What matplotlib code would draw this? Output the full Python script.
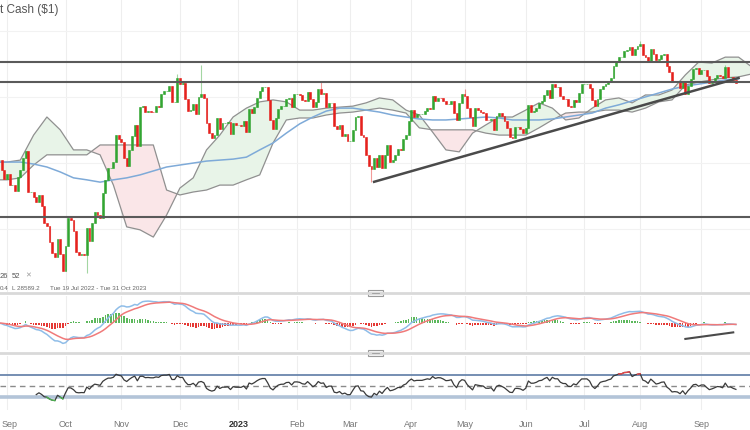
import matplotlib
matplotlib.use("Agg")
import matplotlib.pyplot as plt
from matplotlib.lines import Line2D
from matplotlib.patches import Rectangle
from matplotlib.transforms import ScaledTranslation
import numpy as np
import pandas as pd

START = "2022-08-29"

# daily closes (weekdays), 29 Aug 2022 - 20 Sep 2023
closes = [
    32099, 31791, 31510,
    # Sep 2022
    31656, 31318, 31318, 31146, 31581, 31775, 32152, 32381, 31105, 31135, 30962,
    30822, 31020, 30706, 30184, 30077, 29590, 29261, 29135, 29684, 29226, 28726,
    # Oct
    29490, 30316, 30274, 29927, 29297, 29203, 29240, 29210, 30038, 29635, 30186,
    30524, 30424, 30334, 31083, 31500, 31837, 31839, 32034, 32861, 32733,
    # Nov
    32653, 32148, 31925, 32403, 32827, 33161, 32514, 33716, 33748, 33537, 33593,
    33554, 33547, 33746, 33700, 34098, 34195, 34195, 34347, 33850, 33853, 34590,
    # Dec
    34395, 34430, 33947, 33597, 33598, 33781, 33477, 34006, 34109, 33966, 33203,
    32920, 32757, 32850, 33377, 33028, 33204, 33204, 33241, 32876, 33221, 33147,
    # Jan 2023
    33147, 33136, 33270, 32930, 33631, 33518, 33704, 33974, 34190, 34303, 34303,
    33910, 33297, 33045, 33375, 33630, 33734, 33744, 33950, 33978, 33717, 34086,
    # Feb
    34092, 34054, 33926, 33891, 34156, 33949, 33699, 33869, 34246, 34089, 34128,
    33697, 33827, 33827, 33130, 33045, 33154, 32817, 32889, 32657,
    # Mar
    32662, 33004, 33391, 33432, 32856, 32798, 32255, 31910, 31820, 32155, 31875,
    32247, 31862, 32245, 32561, 32031, 32106, 32238, 32433, 32395, 32718, 32860, 33274,
    # Apr
    33601, 33402, 33482, 33485, 33485, 33587, 33684, 33646, 34030, 33886, 33987,
    33976, 33897, 33786, 33809, 33875, 33531, 33302, 33827, 34098,
    # May
    34051, 33684, 33414, 33128, 33675, 33619, 33562, 33531, 33309, 33301, 33349,
    33012, 33420, 33536, 33427, 33286, 33056, 32800, 32765, 33093, 33093, 33043, 32908,
    # Jun
    33061, 33762, 33563, 33573, 33665, 33833, 33876, 34066, 34212, 33979, 34408,
    34299, 34299, 34053, 33952, 33946, 33727, 33714, 33927, 33852, 34122, 34408,
    # Jul
    34418, 34418, 34288, 33922, 33734, 33944, 34261, 34347, 34395, 34509, 34585,
    34952, 35061, 35225, 35228, 35412, 35438, 35520, 35282, 35459, 35560,
    # Aug
    35630, 35282, 35215, 35066, 35473, 35314, 35124, 35176, 35281, 35308, 34946,
    34766, 34475, 34500, 34464, 34288, 34473, 34099, 34346, 34559, 34852, 34891, 34722,
    # Sep
    34838, 34838, 34641, 34443, 34500, 34577, 34663, 34646, 34576, 34908, 34618,
    34625, 34518, 34441,
]

# the long wicks that stand out
high_wick_dates = ["2022-11-30", "2022-12-13", "2023-02-14", "2023-05-01", "2023-08-01", "2023-09-14"]
high_wick_values = [34700, 34980, 34480, 34260, 35720, 34980]
low_wick_dates = ["2022-09-30", "2022-10-13", "2023-03-13"]
low_wick_values = [28715, 28660, 31430]

# Ichimoku cloud spans and the blue moving average, read weekly
cloud_start = "2022-08-25"
span_a = [32030, 32030, 32090, 32850, 33400, 33010, 32400, 32400, 32250, 31330,
          30060, 29970, 29750, 30420, 31240, 31550, 32400, 32850, 33400, 33670,
          33860, 33920, 33860, 33610, 33610, 33670, 33700, 33730, 33830, 33980,
          33920, 33610, 33460, 32940, 32400, 32340, 32910, 33160, 33400, 33400,
          33610, 33830, 33670, 33310, 33370, 33670, 33920, 33980, 33830, 34070,
          34070, 34220, 34680, 35070, 35040, 35220, 35220, 34920]
span_b = [31490, 31490, 31550, 31940, 32250, 32250, 32250, 32250, 32550, 32550,
          32550, 32550, 32550, 31180, 31030, 31120, 31180, 31330, 31330, 31490,
          31640, 32610, 33310, 33370, 33370, 33460, 33520, 33550, 33610, 33670,
          33610, 33520, 33070, 33010, 33010, 33010, 33010, 32910, 32850, 32850,
          32850, 33070, 33310, 33520, 33550, 33550, 33610, 33610, 33550, 33670,
          33860, 33920, 34370, 34460, 34530, 34590, 34620, 34710]
moving_avg = [32030, 32030, 32030, 31970, 31880, 31730, 31550, 31490, 31420, 31490,
              31550, 31640, 31760, 31880, 31940, 32000, 32060, 32090, 32120, 32180,
              32400, 32610, 32910, 33190, 33400, 33580, 33670, 33670, 33610, 33550,
              33460, 33400, 33340, 33310, 33310, 33340, 33370, 33400, 33370, 33310,
              33310, 33310, 33340, 33400, 33460, 33520, 33670, 33770, 33890, 34010,
              34130, 34250, 34340, 34400, 34460, 34530, 34560]

levels = [35070, 34460, 30360]
trend_dates = ["2023-03-14", "2023-09-21"]
trend_values = [31430, 34586]
macd_trend_dates = ["2023-08-24", "2023-09-19"]
macd_trend_values = [-560, -330]

month_dates = ["2022-09-01", "2022-10-03", "2022-11-01", "2022-12-01", "2023-01-02",
               "2023-02-01", "2023-03-01", "2023-04-03", "2023-05-01", "2023-06-01",
               "2023-07-03", "2023-08-01", "2023-09-01"]
month_labels = ["Sep", "Oct", "Nov", "Dec", "2023", "Feb", "Mar", "Apr", "May",
                "Jun", "Jul", "Aug", "Sep"]


def to_x(dates):
    days = pd.to_datetime(dates).values.astype("datetime64[D]")
    return np.busday_count(np.datetime64(START), days)


def wilder_rsi(values, period=14):
    diff = np.diff(values)
    gain, loss = np.clip(diff, 0, None), np.clip(-diff, 0, None)
    out = np.full(len(values), np.nan)
    avg_gain, avg_loss = gain[:period].mean(), loss[:period].mean()
    out[period] = 100 - 100 / (1 + avg_gain / avg_loss)
    for i in range(period + 1, len(values)):
        avg_gain = (avg_gain * (period - 1) + gain[i - 1]) / period
        avg_loss = (avg_loss * (period - 1) + loss[i - 1]) / period
        out[i] = 100 - 100 / (1 + avg_gain / avg_loss)
    return out


UP, DOWN = "#33a532", "#e5211d"
plt.rcParams["font.family"] = ["Liberation Sans", "DejaVu Sans"]

c = np.asarray(closes, dtype=float)
x = np.arange(len(c))
opens = np.r_[c[0], c[:-1]]
body_lo, body_hi = np.minimum(opens, c), np.maximum(opens, c)
highs, lows = body_hi.copy(), body_lo.copy()
for i, v in zip(to_x(high_wick_dates), high_wick_values):
    highs[i] = max(highs[i], v)
for i, v in zip(to_x(low_wick_dates), low_wick_values):
    lows[i] = min(lows[i], v)
colors = np.where(c >= opens, UP, DOWN)

cloud_x = to_x(pd.bdate_range(cloud_start, periods=len(span_a), freq="5B"))
span_a, span_b = np.asarray(span_a, float), np.asarray(span_b, float)

s = pd.Series(c)
macd = s.ewm(span=12, adjust=False).mean() - s.ewm(span=26, adjust=False).mean()
signal = macd.ewm(span=9, adjust=False).mean()
hist = (macd - signal).to_numpy()
rsi = wilder_rsi(c)

W, H = 750, 430
fig = plt.figure(figsize=(7.5, 4.3), dpi=100)
ax = fig.add_axes([0, 1 - 292 / H, 1, 292 / H])
ax2 = fig.add_axes([0, 1 - 350 / H, 1, 54 / H], sharex=ax)
ax3 = fig.add_axes([0, 1 - 410 / H, 1, 54 / H], sharex=ax)

tick_x = to_x(month_dates)
for a in (ax, ax2, ax3):
    for sp in a.spines.values():
        sp.set_visible(False)
    a.set_xticks(tick_x)
    a.grid(axis="x", color="#eeeeee", lw=0.8)
    a.set_axisbelow(True)
    a.tick_params(length=0, labelleft=False)
    a.set_yticks([])

# main panel
ax.set_yticks([30000, 32000, 34000, 36000])
ax.grid(axis="y", color="#f2f2f2", lw=0.8)
ax.fill_between(cloud_x, span_a, span_b, where=span_a >= span_b, interpolate=True,
                color="#e8f4e8", lw=0, zorder=1)
ax.fill_between(cloud_x, span_a, span_b, where=span_a < span_b, interpolate=True,
                color="#fae6e8", lw=0, zorder=1)
ax.plot(cloud_x, span_a, color="#909090", lw=0.9, zorder=2)
ax.plot(cloud_x, span_b, color="#909090", lw=0.9, zorder=2)
ax.plot(cloud_x[:len(moving_avg)], moving_avg, color="#7eaad8", lw=1.1, zorder=2)
ax.vlines(x, lows, highs, colors=colors, lw=0.8, alpha=0.45, zorder=3)
ax.bar(x, body_hi - body_lo, bottom=body_lo, width=0.7, color=colors,
       edgecolor=colors, linewidth=0.4, zorder=3)
for lv in levels:
    ax.axhline(lv, color="#5a5a5a", lw=1.5, zorder=4)
ax.plot(to_x(trend_dates), trend_values, color="#4a4a4a", lw=1.8, zorder=4)
ax.set_ylim(28080, 36957)
ax.set_xlim(0.37, 282.3)
ax.tick_params(labelbottom=False)

# MACD panel
ax2.bar(x, hist, width=0.6, color=np.where(hist >= 0, "#5cb85c", "#e53935"), zorder=2)
ax2.plot(x, macd, color="#8fbde8", lw=1.1, zorder=3)
ax2.plot(x, signal, color="#f07a7a", lw=1.1, zorder=3)
ax2.plot(to_x(macd_trend_dates), macd_trend_values, color="#4a4a4a", lw=1.5, zorder=4)
ax2.set_ylim(-950, 950)
ax2.tick_params(labelbottom=False)

# RSI panel
ax3.axhline(70, color="#5d7ca6", lw=1.2, zorder=1)
ax3.axhline(30, color="#b3c4d8", lw=2.6, zorder=1)
ax3.axhline(50, color="#8a8a8a", lw=1, ls=(0, (4, 3)), zorder=1)
ax3.plot(x, rsi, color="#3a3a3a", lw=0.9, zorder=2)
ax3.plot(x, np.where(rsi >= 70, rsi, np.nan), color="#e8474a", lw=1, zorder=3)
ax3.plot(x, np.where(rsi <= 30, rsi, np.nan), color="#4caf50", lw=1, zorder=3)
ax3.set_ylim(6.4, 104.5)
ax3.set_xticklabels(month_labels)
ax3.tick_params(axis="x", labelsize=6.5, labelcolor="#777777", pad=7)
labels = ax3.get_xticklabels()
for lab in labels:
    if lab.get_text() == "2023":
        lab.set_color("#333333")
        lab.set_fontweight("bold")
labels[0].set_horizontalalignment("left")
labels[0].set_transform(labels[0].get_transform()
                        + ScaledTranslation(-5 / 100, 0, fig.dpi_scale_trans))

# panel dividers with drag handles
for y in (293, 353):
    fy = 1 - y / H
    fig.add_artist(Line2D([0, 1], [fy, fy], color="#d9d9d9", lw=2))
    fig.add_artist(Rectangle((368 / W, fy - 3 / H), 15 / W, 6 / H, transform=fig.transFigure,
                             facecolor="#f4f4f4", edgecolor="#9a9a9a", lw=0.8))
    fig.add_artist(Line2D([372 / W, 379 / W], [fy, fy], color="#9a9a9a", lw=0.6))

# header and legend fragments
fig.text(0, 1 - 10 / H, "t Cash ($1)", fontsize=8.5, color="#555555", va="center")
fig.text(0, 1 - 276 / H, "26", fontsize=5.5, color="#555555", va="center")
fig.text(12 / W, 1 - 276 / H, "52", fontsize=5.5, color="#555555", va="center")
fig.text(25 / W, 1 - 276 / H, "\u2715", fontsize=5, color="#9a9a9a", va="center")
fig.text(0, 1 - 288 / H, "0.4", fontsize=4.5, color="#666666", va="center")
fig.text(12 / W, 1 - 288 / H, "L 28589.2", fontsize=4.5, color="#666666", va="center")
fig.text(50 / W, 1 - 288 / H, "Tue 19 Jul 2022 - Tue 31 Oct 2023", fontsize=4.5,
         color="#666666", va="center")

fig.savefig("out.png", dpi=100)
